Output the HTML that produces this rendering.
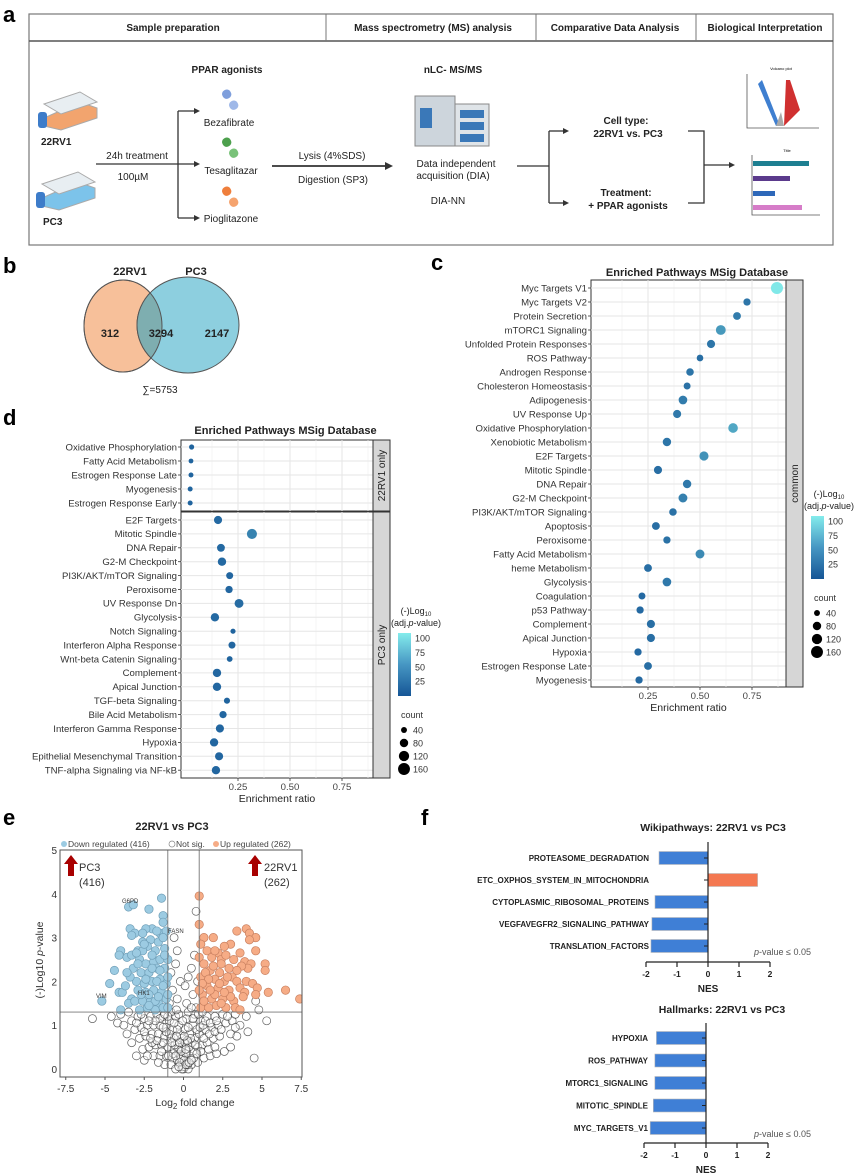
<!DOCTYPE html>
<html><head><meta charset="utf-8"><style>
html,body{margin:0;padding:0;background:#fff}
svg{display:block;font-family:"Liberation Sans",Arial,sans-serif}
</style></head><body>
<svg id="fig" width="858" height="1174" viewBox="0 0 858 1174" xmlns="http://www.w3.org/2000/svg">
<rect width="858" height="1174" fill="#fff"/>
<!-- Panel a -->
<g>
<text x="3" y="22" font-size="22" font-weight="bold">a</text>
<rect x="29" y="14" width="804" height="231" fill="none" stroke="#777" stroke-width="1.2"/>
<line x1="29" y1="41" x2="833" y2="41" stroke="#555" stroke-width="1.5"/>
<line x1="326" y1="14" x2="326" y2="41" stroke="#777"/>
<line x1="536" y1="14" x2="536" y2="41" stroke="#777"/>
<line x1="696" y1="14" x2="696" y2="41" stroke="#777"/>
<g font-size="10" font-weight="bold" text-anchor="middle" fill="#222">
<text x="173" y="31">Sample preparation</text>
<text x="433" y="31">Mass spectrometry (MS) analysis</text>
<text x="615" y="31">Comparative Data Analysis</text>
<text x="765" y="31">Biological Interpretation</text>
</g>
<g>
<polygon points="44,118 80,102 97,108 97,118 61,130 44,126" fill="#f2a46e" stroke="#aaa"/>
<polygon points="44,104 80,92 97,102 61,114" fill="#e8eef2" stroke="#aaa"/>
<rect x="38" y="112" width="9" height="16" rx="3" fill="#3d7cc9"/>
</g>
<g>
<polygon points="42,198 78,182 95,188 95,198 59,210 42,206" fill="#7cc3ea" stroke="#aaa"/>
<polygon points="42,184 78,172 95,182 59,194" fill="#e8eef2" stroke="#aaa"/>
<rect x="36" y="192" width="9" height="16" rx="3" fill="#3d7cc9"/>
</g>
<g font-size="10" font-weight="bold" fill="#222">
<text x="41" y="145">22RV1</text>
<text x="43" y="225">PC3</text>
<text x="227" y="73" text-anchor="middle">PPAR agonists</text>
<text x="453" y="73" text-anchor="middle">nLC- MS/MS</text>
<text x="626" y="124" text-anchor="middle">Cell type:</text>
<text x="628" y="137" text-anchor="middle">22RV1 vs. PC3</text>
<text x="626" y="196" text-anchor="middle">Treatment:</text>
<text x="628" y="209" text-anchor="middle">+ PPAR agonists</text>
</g>
<g font-size="10" fill="#222" text-anchor="middle">
<text x="137" y="159">24h treatment</text>
<text x="133" y="180">100µM</text>
<text x="229" y="126">Bezafibrate</text>
<text x="231" y="174">Tesaglitazar</text>
<text x="231" y="222">Pioglitazone</text>
<text x="332" y="159">Lysis (4%SDS)</text>
<text x="333" y="183">Digestion (SP3)</text>
<text x="456" y="167">Data independent</text>
<text x="453" y="179">acquisition (DIA)</text>
<text x="448" y="204">DIA-NN</text>
</g>
<g stroke="#333" stroke-width="1.3" fill="none">
<line x1="96" y1="164" x2="196" y2="164"/><line x1="178" y1="111" x2="178" y2="218"/>
<line x1="178" y1="111" x2="196" y2="111"/><line x1="178" y1="218" x2="196" y2="218"/>
<line x1="272" y1="166" x2="388" y2="166" stroke-width="1.8"/>
<line x1="517" y1="166" x2="549" y2="166"/><line x1="549" y1="131" x2="549" y2="203"/>
<line x1="549" y1="131" x2="565" y2="131"/><line x1="549" y1="203" x2="565" y2="203"/>
<polyline points="688,131 704,131 704,203 688,203"/><line x1="704" y1="165" x2="730" y2="165"/>
</g>
<g fill="#333">
<polygon points="200,164 194,161 194,167"/><polygon points="200,111 194,108 194,114"/><polygon points="200,218 194,215 194,221"/>
<polygon points="393,166 385,162 385,170"/><polygon points="569,131 563,128 563,134"/><polygon points="569,203 563,200 563,206"/><polygon points="735,165 729,162 729,168"/>
</g>
<g>
<rect x="222" y="90" width="9" height="9" rx="4" fill="#7f9fdc" transform="rotate(-30 226 94)"/><rect x="229" y="101" width="9" height="9" rx="4" fill="#9fb8e8" transform="rotate(-30 233 105)"/>
<rect x="222" y="138" width="9" height="9" rx="4" fill="#4da04d" transform="rotate(-30 226 142)"/><rect x="229" y="149" width="9" height="9" rx="4" fill="#79c279" transform="rotate(-30 233 153)"/>
<rect x="222" y="187" width="9" height="9" rx="4" fill="#ef7f3c" transform="rotate(-30 226 191)"/><rect x="229" y="198" width="9" height="9" rx="4" fill="#f5a36e" transform="rotate(-30 233 202)"/>
</g>
<g>
<rect x="415" y="96" width="40" height="50" fill="#cdd5dc" stroke="#888"/>
<rect x="420" y="108" width="12" height="20" fill="#3a78b8"/>
<rect x="455" y="104" width="34" height="42" fill="#dfe4e8" stroke="#888"/>
<rect x="460" y="110" width="24" height="8" fill="#3a78b8"/><rect x="460" y="122" width="24" height="8" fill="#3a78b8"/><rect x="460" y="134" width="24" height="8" fill="#3a78b8"/>
</g>
<g>
<text x="781" y="70" font-size="4" text-anchor="middle">Volcano plot</text>
<polyline points="747,74 747,128 819,128" fill="none" stroke="#555" stroke-width="0.8"/>
<polygon points="762,80 780,126 776,126 758,84" fill="#3f7fd0"/>
<polygon points="786,80 790,80 800,110 784,126" fill="#d03030"/>
<polygon points="776,126 784,126 781,112" fill="#aaa"/>
</g>
<g>
<text x="787" y="152" font-size="4" text-anchor="middle">Title</text>
<polyline points="752,155 752,215 820,215" fill="none" stroke="#555" stroke-width="0.8"/>
<rect x="753" y="161" width="56" height="5" fill="#1e7f91"/>
<rect x="753" y="176" width="37" height="5" fill="#5b3a8c"/>
<rect x="753" y="191" width="22" height="5" fill="#2e68b9"/>
<rect x="753" y="205" width="49" height="5" fill="#d67cc8"/>
</g>
</g>
<!-- Panel b -->
<g>
<text x="3" y="273" font-size="22" font-weight="bold">b</text>
<ellipse cx="123" cy="326" rx="39" ry="46" fill="#f7c09a" stroke="#555"/>
<ellipse cx="188" cy="325" rx="51" ry="48" fill="#8dcfdf" stroke="#555"/>
<clipPath id="clipL"><ellipse cx="123" cy="326" rx="39" ry="46"/></clipPath>
<ellipse cx="188" cy="325" rx="51" ry="48" fill="#7eaeb0" stroke="#555" clip-path="url(#clipL)"/>
<ellipse cx="123" cy="326" rx="39" ry="46" fill="none" stroke="#555"/>
<g font-size="11" font-weight="bold" text-anchor="middle" fill="#222">
<text x="110" y="337">312</text><text x="161" y="337">3294</text><text x="217" y="337">2147</text>
<text x="130" y="275">22RV1</text><text x="196" y="275">PC3</text>
</g>
<text x="160" y="393" font-size="10" text-anchor="middle" fill="#222">∑=5753</text>
</g>
<text x="431" y="270" font-size="22" font-weight="bold">c</text>
<text x="3" y="425" font-size="22" font-weight="bold">d</text>
<text x="3" y="825" font-size="22" font-weight="bold">e</text>
<text x="421" y="825" font-size="22" font-weight="bold">f</text>
<g id="gc"></g>
<g id="gd"></g>
<g id="ge"></g>
<g id="gf"></g>
</svg>
<script>
// ---------- Panel c data ----------
const cCategories = ["Myc Targets V1","Myc Targets V2","Protein Secretion","mTORC1 Signaling","Unfolded Protein Responses","ROS Pathway","Androgen Response","Cholesteron Homeostasis","Adipogenesis","UV Response Up","Oxidative Phosphorylation","Xenobiotic Metabolism","E2F Targets","Mitotic Spindle","DNA Repair","G2-M Checkpoint","PI3K/AKT/mTOR Signaling","Apoptosis","Peroxisome","Fatty Acid Metabolism","heme Metabolism","Glycolysis","Coagulation","p53 Pathway","Complement","Apical Junction","Hypoxia","Estrogen Response Late","Myogenesis"];
const cRatio = [0.87,0.726,0.678,0.60,0.553,0.50,0.452,0.438,0.418,0.39,0.659,0.341,0.519,0.298,0.438,0.418,0.37,0.288,0.341,0.50,0.25,0.341,0.221,0.212,0.264,0.264,0.202,0.25,0.207];
const cLogP = [100,20,25,45,20,15,20,18,25,22,55,20,40,15,22,28,18,15,18,35,15,22,12,12,15,15,12,15,12];
const cCount = [165,60,70,110,75,50,65,55,85,75,105,80,95,75,80,90,65,70,60,90,70,85,55,60,75,75,60,70,60];
// ---------- Panel d data ----------
const d1Categories = ["Oxidative Phosphorylation","Fatty Acid Metabolism","Estrogen Response Late","Myogenesis","Estrogen Response Early"];
const d1Ratio = [0.027,0.024,0.024,0.020,0.020];
const d1LogP = [8,8,8,8,8];
const d1Count = [30,26,28,28,28];
const d2Categories = ["E2F Targets","Mitotic Spindle","DNA Repair","G2-M Checkpoint","PI3K/AKT/mTOR Signaling","Peroxisome","UV Response Dn","Glycolysis","Notch Signaling","Interferon Alpha Response","Wnt-beta Catenin Signaling","Complement","Apical Junction","TGF-beta Signaling","Bile Acid Metabolism","Interferon Gamma Response","Hypoxia","Epithelial Mesenchymal Transition","TNF-alpha Signaling via NF-kB"];
const d2Ratio = [0.154,0.317,0.168,0.173,0.21,0.207,0.255,0.139,0.226,0.221,0.21,0.149,0.149,0.197,0.178,0.163,0.135,0.159,0.144];
const d2LogP = [12,30,12,12,10,10,14,12,8,10,8,10,10,8,10,10,10,10,10];
const d2Count = [75,115,70,80,55,60,90,80,30,55,38,80,80,42,60,75,78,75,78];
const ratioTicks = [0.25,0.5,0.75];
const ratioTickLabels = ["0.25","0.50","0.75"];
const legendLogP = [100,75,50,25];
const legendCounts = [40,80,120,160];
// ---------- Panel e data ----------
const downPts = [[-1.4,3.9],[-3.5,3.7],[-3.2,3.75],[-2.2,3.65],[-1.3,3.5],[-1.3,3.35],[-1.5,3.1],[-2.0,3.2],[-2.4,3.2],[-3.4,3.2],[-3.1,3.1],[-3.3,3.05],[-1.7,3.15],[-2.6,3.1],[-1.1,3.15],[-2.1,2.95],[-2.6,2.9],[-4.0,2.7],[-4.1,2.6],[-3.6,2.55],[-2.9,2.7],[-2.3,2.8],[-1.8,2.7],[-1.2,2.75],[-4.4,2.25],[-4.7,1.95],[-5.2,1.55],[-4.1,1.75],[-3.9,1.75],[-3.3,1.6],[-3.5,1.5],[-4.0,1.35],[-2.8,2.5],[-2.4,2.4],[-1.9,2.45],[-1.5,2.5],[-3.2,2.3],[-2.7,2.2],[-2.2,2.2],[-1.7,2.3],[-1.2,2.3],[-3.0,2.0],[-2.5,1.95],[-2.0,2.0],[-1.5,2.05],[-1.1,1.95],[-3.4,2.1],[-2.9,1.8],[-2.4,1.75],[-1.9,1.8],[-1.4,1.75],[-3.1,1.55],[-2.6,1.55],[-2.1,1.55],[-1.6,1.5],[-1.1,1.6],[-2.8,1.35],[-2.3,1.4],[-1.8,1.35],[-1.3,1.4],[-3.7,1.9],[-3.3,2.6],[-2.0,2.6],[-1.6,2.9],[-1.0,2.5],[-1.0,2.1],[-1.0,1.7],[-1.0,1.4],[-2.6,2.7],[-1.3,3.0],[-3.6,2.2],[-2.2,1.7],[-1.7,2.0],[-1.2,2.6],[-2.9,2.4],[-2.0,2.3],[-2.4,2.05],[-1.5,2.25],[-2.7,1.7],[-1.8,1.55],[-1.3,1.9],[-2.2,1.45],[-1.6,1.65],[-3.0,2.65],[-2.5,2.85]];
const upPts = [[1.0,3.95],[1.0,3.3],[4.0,3.2],[4.2,3.1],[3.4,3.15],[4.6,3.0],[4.2,2.95],[1.3,3.0],[1.9,3.0],[1.1,2.85],[3.0,2.85],[2.6,2.8],[1.5,2.7],[2.2,2.65],[3.6,2.65],[4.6,2.7],[1.0,2.55],[1.8,2.55],[2.4,2.5],[3.2,2.5],[3.9,2.45],[4.3,2.4],[5.2,2.4],[5.2,2.25],[4.1,2.3],[3.7,2.35],[2.9,2.3],[1.3,2.4],[1.7,2.25],[2.3,2.2],[1.1,2.1],[2.0,2.05],[2.6,2.0],[3.1,2.1],[3.4,2.0],[4.0,2.0],[4.4,1.95],[1.5,1.9],[2.2,1.85],[2.9,1.8],[3.6,1.85],[3.9,1.75],[4.7,1.85],[5.4,1.75],[6.5,1.8],[7.4,1.6],[4.6,1.7],[1.2,1.7],[1.8,1.6],[2.5,1.6],[3.2,1.55],[3.8,1.65],[1.1,1.4],[1.6,1.4],[2.1,1.45],[2.7,1.4],[3.3,1.4],[3.6,1.35],[2.4,2.4],[2.0,2.7],[1.4,2.2],[2.7,2.6],[3.0,1.65],[1.9,2.35],[2.3,1.95],[3.4,2.25],[1.6,2.05],[2.8,2.1],[1.3,1.55],[2.0,1.7],[2.6,1.75],[1.2,1.95],[1.7,1.8],[2.4,1.5],[1.0,1.8]];
const nsPts = [[-0.6,3.0],[-0.4,2.7],[0.8,3.6],[0.7,2.6],[0.5,2.3],[-0.5,2.4],[0.3,2.1],[-0.2,2.0],[0.1,1.9],[-0.8,2.2],[0.9,2.0],[-0.7,1.8],[0.6,1.7],[-0.4,1.6],[0.2,1.5],[-0.9,1.5],[0.8,1.4],[-5.8,1.15],[-4.6,1.2],[-4.2,1.05],[-3.8,1.0],[-3.3,1.1],[-2.9,1.2],[-2.5,1.15],[-2.1,1.2],[-1.7,1.25],[-1.3,1.2],[-0.9,1.1],[-3.6,0.8],[-3.1,0.9],[-2.7,0.95],[-2.3,1.0],[-1.9,1.0],[-1.5,1.0],[-1.1,0.95],[-0.7,0.9],[-3.3,0.6],[-2.8,0.7],[-2.4,0.75],[-2.0,0.8],[-1.6,0.8],[-1.2,0.75],[-0.8,0.7],[-0.4,0.6],[-2.6,0.45],[-2.2,0.5],[-1.8,0.55],[-1.4,0.55],[-1.0,0.5],[-0.6,0.45],[-0.3,0.35],[-3.0,0.3],[-1.9,0.3],[-1.5,0.3],[-1.1,0.3],[-0.7,0.25],[-0.4,0.2],[-0.2,0.1],[-1.2,0.1],[-0.8,0.1],[0,0],[0.1,0.05],[-0.1,0.15],[0.2,0.2],[0.4,0.3],[0.6,0.4],[0.9,0.5],[1.2,0.55],[1.5,0.6],[1.9,0.7],[2.3,0.75],[0.5,0.1],[0.9,0.15],[1.3,0.25],[1.7,0.3],[2.1,0.35],[2.6,0.4],[4.5,0.25],[0.3,0.6],[0.7,0.7],[1.0,0.8],[1.4,0.9],[1.8,0.95],[2.2,1.0],[2.7,1.05],[3.1,1.1],[3.6,1.0],[4.1,0.85],[0.6,1.0],[1.1,1.1],[1.5,1.2],[2.0,1.2],[2.5,1.25],[3.0,0.8],[3.4,0.75],[4.0,1.2],[5.3,1.1],[-0.2,0.8],[-0.5,1.2],[0.2,1.15],[-0.1,0.5],[0.1,0.9],[-0.3,1.0],[4.8,1.35],[4.6,1.55],[-2.0,0.6],[-2.5,0.2],[3.0,0.5],[1.6,0.45],[-1.6,0.15],[-4.0,1.25],[-0.5,0.0],[0.3,0.0],[-0.2,0.3],[0.2,0.4],[-0.6,0.7],[0.4,0.8],[-0.3,0.5],[0.0,0.3],[-0.1,0.7],[0.1,0.6],[-0.4,0.9],[0.3,0.95],[-0.15,0.25],[0.15,0.35],[-0.05,0.05],[0.05,0.2],[-0.25,0.15],[0.25,0.1],[-0.8,1.3],[0.7,1.25],[-1.4,0.4],[1.1,0.4],[-2.3,0.3],[2.0,0.5],[-3.5,1.3],[3.3,1.25],[-0.35,0.45],[0.35,0.5],[-0.55,0.55],[0.55,0.6],[-0.75,0.6],[0.75,0.55],[-0.9,0.8],[0.85,0.9],[-1.1,0.85],[1.05,0.95],[-1.3,0.95],[1.25,1.0],[-0.45,0.75],[0.45,0.7],[-0.25,0.6],[0.25,0.65],[-0.15,0.4],[0.15,0.45],[-0.6,1.05],[0.6,1.15],[-1.0,1.2],[0.95,1.25],[-1.5,1.15],[1.4,1.1],[-1.8,1.1],[1.7,1.05],[-2.2,1.1],[2.1,1.1],[-0.3,1.25],[0.3,1.3],[-0.05,1.1],[0.05,0.75],[-0.65,0.35],[0.65,0.25],[-0.95,0.3],[0.85,0.35],[-1.3,0.6],[1.3,0.7],[-1.7,0.65],[1.65,0.8],[-2.1,0.7],[2.0,0.85],[-2.5,0.85],[2.4,0.9],[-0.1,0.0],[0.15,0.1],[-0.3,0.05],[0.35,0.15],[-0.5,0.3],[0.5,0.2],[-2.7,1.25],[2.8,1.2],[-3.0,1.05],[3.3,0.95],[-1.2,1.25],[1.2,1.3],[-0.45,1.35],[0.5,1.4]];
const volcanoXTicks = [-7.5,-5,-2.5,0,2.5,5,7.5];
const volcanoXTickLabels = ["-7.5","-5","-2.5","0","2.5","5","7.5"];
const volcanoYTicks = [0,1,2,3,4,5];
// ---------- Panel f data ----------
const wikiLabels = ["PROTEASOME_DEGRADATION","ETC_OXPHOS_SYSTEM_IN_MITOCHONDRIA","CYTOPLASMIC_RIBOSOMAL_PROTEINS","VEGFAVEGFR2_SIGNALING_PATHWAY","TRANSLATION_FACTORS"];
const wikiNES = [-1.58,1.6,-1.71,-1.81,-1.84];
const hallLabels = ["HYPOXIA","ROS_PATHWAY","MTORC1_SIGNALING","MITOTIC_SPINDLE","MYC_TARGETS_V1"];
const hallNES = [-1.6,-1.65,-1.65,-1.7,-1.8];
const nesTicks = [-2,-1,0,1,2];

const NS = "http://www.w3.org/2000/svg";
function mk(tag, attrs, parent, txt){
  const e = document.createElementNS(NS, tag);
  for (const k in attrs) e.setAttribute(k, attrs[k]);
  if (txt !== undefined) e.textContent = txt;
  parent.appendChild(e);
  return e;
}
function colorFor(v){
  const t = Math.max(0, Math.min(1, v/100));
  const r = Math.round(24 + t*(128-24)), g = Math.round(88 + t*(232-88)), b = Math.round(152 + t*(232-152));
  return `rgb(${r},${g},${b})`;
}
function rad(c){ return 0.47*Math.sqrt(c); }

function facet(g, o){
  const xs = v => o.x0 + v*o.k;
  const bg = mk('rect',{x:o.left,y:o.top,width:o.right-o.left,height:o.bottom-o.top,fill:'#fff',stroke:'#333','stroke-width':1},g);
  
  
  for (let m=0.125;m<=0.875;m+=0.25){
    const l = mk('line',{x1:xs(m),x2:xs(m),y1:o.top,y2:o.bottom,stroke:'#f2f2f2','stroke-width':0.7},g);
    
    
  }
  ratioTicks.forEach(t=>{
    const l = mk('line',{x1:xs(t),x2:xs(t),y1:o.top,y2:o.bottom,stroke:'#e6e6e6','stroke-width':1},g);
    
    
  });
  o.cats.forEach((c,i)=>{
    const y = o.y0 + i*o.dy;
    const gl = mk('line',{x1:o.left,x2:o.right,y1:y,y2:y,stroke:'#e6e6e6','stroke-width':1},g);
    
    
    const tk = mk('line',{x1:o.left-3,x2:o.left,y1:y,y2:y,stroke:'#333','stroke-width':0.8},g);
    
    
    const tx = mk('text',{x:o.left-4,y:y+3.3,'font-size':9.6,'text-anchor':'end',fill:'#333'},g,c);
    
    
  });
  o.cats.forEach((c,i)=>{
    const y = o.y0 + i*o.dy;
    const d = mk('circle',{cx:xs(o.vals[i]),cy:y,r:rad(o.counts[i]),fill:colorFor(o.logp[i])},g);
    
    
  });
  const st = mk('rect',{x:o.right,y:o.top,width:17,height:o.bottom-o.top,fill:'#d6d6d6',stroke:'#333','stroke-width':1},g);
  
  
  const cy = (o.top+o.bottom)/2, cx = o.right+8.5;
  const sl = mk('text',{x:cx,y:cy,'font-size':10,'text-anchor':'middle',fill:'#222',transform:`rotate(-90 ${cx} ${cy}) translate(0 3.5)`},g,o.strip);
  
  
}
function xAxisRatio(g, o){
  const xs = v => o.x0 + v*o.k;
  ratioTicks.forEach((t,i)=>{
    const tk = mk('line',{x1:xs(t),x2:xs(t),y1:o.bottom,y2:o.bottom+3,stroke:'#333','stroke-width':0.8},g);
    
    
    const tl = mk('text',{x:xs(t),y:o.bottom+12,'font-size':9.6,'text-anchor':'middle',fill:'#444'},g,ratioTickLabels[i]);
    
    
  });
  const at = mk('text',{x:(o.left+o.right)/2,y:o.bottom+24,'font-size':10.5,'text-anchor':'middle',fill:'#222'},g,'Enrichment ratio');
  
  
  const ti = mk('text',{x:(o.left+o.right+17)/2,y:o.titleY,'font-size':11,'font-weight':'bold','text-anchor':'middle',fill:'#222'},g,'Enriched Pathways MSig Database');
  
  
}
function legend(g, x, y){
  const t1 = mk('text',{x:x+18,y:y,'font-size':9,'text-anchor':'middle',fill:'#222'},g);
  
  
  t1.innerHTML = '(-)Log<tspan font-size="6" dy="2">10</tspan>';
  const t2 = mk('text',{x:x+18,y:y+12,'font-size':9,'text-anchor':'middle',fill:'#222'},g);
  
  
  t2.innerHTML = '(adj.<tspan font-style="italic">p</tspan>-value)';
  const bar = mk('rect',{x:x,y:y+19,width:13,height:63,fill:'url(#cgrad)'},g);
  
  
  legendLogP.forEach(v=>{
    const yy = y+19 + 63*(1 - v/110);
    const tl = mk('text',{x:x+17,y:yy+3,'font-size':9,fill:'#333'},g,String(v));
    
    
  });
  const ct = mk('text',{x:x+14,y:y+104,'font-size':9,'text-anchor':'middle',fill:'#333'},g,'count');
  
  
  legendCounts.forEach((c,i)=>{
    const yy = y+116 + i*13;
    const dot = mk('circle',{cx:x+6,cy:yy,r:rad(c),fill:'#000'},g);
    
    
    const tl = mk('text',{x:x+15,y:yy+3.3,'font-size':9,fill:'#333'},g,String(c));
    
    
  });
}
const svg = document.getElementById('fig');
const defs = mk('defs',{},svg);
defs.innerHTML = '<linearGradient id="cgrad" x1="0" y1="0" x2="0" y2="1"><stop offset="0" stop-color="rgb(132,236,236)"/><stop offset="0.5" stop-color="rgb(70,150,195)"/><stop offset="1" stop-color="rgb(22,86,150)"/></linearGradient>';

// Panel c
const gc = document.getElementById('gc');
const cOpt = {left:591,right:786,top:280,bottom:687,x0:596,k:208,y0:288,dy:14.0,cats:cCategories,vals:cRatio,logp:cLogP,counts:cCount,strip:'common',titleY:276};
facet(gc, cOpt);
xAxisRatio(gc, cOpt);
legend(gc, 811, 497);

// Panel d
const gd = document.getElementById('gd');
const dOpt1 = {left:181,right:373,top:440,bottom:511,x0:186,k:208,y0:447,dy:14,cats:d1Categories,vals:d1Ratio,logp:d1LogP,counts:d1Count,strip:'22RV1 only'};
const dOpt2 = {left:181,right:373,top:512,bottom:778,x0:186,k:208,y0:520,dy:13.9,cats:d2Categories,vals:d2Ratio,logp:d2LogP,counts:d2Count,strip:'PC3 only',titleY:434};
facet(gd, dOpt1);
facet(gd, dOpt2);
xAxisRatio(gd, dOpt2);
legend(gd, 398, 614);

// Panel e volcano
const ge = document.getElementById('ge');
const ex = v => 183.5 + v*15.7;
const ey = v => 1069 - v*43.8;
const et = mk('text',{x:172,y:830,'font-size':11,'font-weight':'bold','text-anchor':'middle',fill:'#222'},ge,'22RV1 vs PC3');


const eclip = mk('clipPath',{id:'eclip'},defs);
mk('rect',{x:60,y:850,width:242,height:227},eclip);
const pts = mk('g',{'clip-path':'url(#eclip)'},ge);


nsPts.forEach(p=>{
  const c = mk('circle',{cx:ex(p[0]),cy:ey(p[1]),r:4,fill:'rgba(255,255,255,0.45)',stroke:'rgba(30,30,30,0.7)','stroke-width':0.7},pts);
  
  
});
downPts.forEach(p=>{
  const c = mk('circle',{cx:ex(p[0]),cy:ey(p[1]),r:4.2,fill:'#9ccbe2',stroke:'#6f9fb8','stroke-width':0.7},pts);
  
  
});
upPts.forEach(p=>{
  const c = mk('circle',{cx:ex(p[0]),cy:ey(p[1]),r:4.2,fill:'#f6ac86',stroke:'#c98060','stroke-width':0.7},pts);
  
  
});
[[-1,'v'],[1,'v'],[1.3,'h']].forEach(a=>{
  const l = a[1]==='v' ? mk('line',{x1:ex(a[0]),x2:ex(a[0]),y1:850,y2:1077,stroke:'#777','stroke-width':0.9},ge)
                       : mk('line',{x1:60,x2:302,y1:ey(a[0]),y2:ey(a[0]),stroke:'#777','stroke-width':0.9},ge);
  
  
});
const ebox = mk('rect',{x:60,y:850,width:242,height:227,fill:'none',stroke:'#555','stroke-width':1},ge);


volcanoXTicks.forEach((t,i)=>{
  const tk = mk('line',{x1:ex(t),x2:ex(t),y1:1077,y2:1080,stroke:'#555'},ge);
  
  
  const tl = mk('text',{x:ex(t),y:1092,'font-size':10,'text-anchor':'middle',fill:'#333'},ge,volcanoXTickLabels[i]);
  
  
});
volcanoYTicks.forEach(t=>{
  const tl = mk('text',{x:57,y:ey(t)+4,'font-size':10,'text-anchor':'end',fill:'#333'},ge,String(t));
  
  
});
const exl = mk('text',{x:195,y:1106,'font-size':10.5,'text-anchor':'middle',fill:'#333'},ge);


exl.innerHTML = 'Log<tspan font-size="8" dy="3">2</tspan><tspan dy="-3"> fold change</tspan>';
const eyl = mk('text',{x:43,y:960,'font-size':10.5,'text-anchor':'middle',fill:'#333',transform:'rotate(-90 43 960)'},ge);


eyl.innerHTML = '(-)Log10 <tspan font-style="italic">p</tspan>-value';
const eleg = mk('g',{'font-size':8.5,fill:'#444'},ge);


eleg.innerHTML = '<circle cx="64" cy="844" r="3" fill="#9ccbe2"/><text x="68" y="847">Down regulated (416)</text><circle cx="172" cy="844" r="3" fill="#fff" stroke="#888" stroke-width="0.7"/><text x="176" y="847">Not sig.</text><circle cx="216" cy="844" r="3" fill="#f6ac86"/><text x="220" y="847">Up regulated (262)</text>';
const earr = mk('g',{},ge);


earr.innerHTML = '<polygon points="71,855 78,864 74,864 74,876 68,876 68,864 64,864" fill="#a80000"/><text x="79" y="871" font-size="11" fill="#333">PC3</text><text x="79" y="886" font-size="11" fill="#333">(416)</text><polygon points="255,855 262,864 258,864 258,876 252,876 252,864 248,864" fill="#a80000"/><text x="264" y="871" font-size="11" fill="#333">22RV1</text><text x="264" y="886" font-size="11" fill="#333">(262)</text><g font-size="6" fill="#333"><text x="122" y="903">G6PD</text><text x="168" y="933">FASN</text><text x="96" y="998">VIM</text><text x="138" y="995">HK1</text></g>';

// Panel f
const gf = document.getElementById('gf');
function gsea(o){
  const xs = v => o.zero + v*31;
  const ti = mk('text',{x:o.tx,y:o.ty,'font-size':10.5,'font-weight':'bold','text-anchor':'middle',fill:'#222'},gf,o.title);
  
  
  o.labels.forEach((lab,i)=>{
    const y = o.y0 + i*o.dy;
    const v = o.vals[i];
    const b = mk('rect',{x:Math.min(xs(0),xs(v)),y:y-6.5,width:Math.abs(xs(v)-xs(0)),height:13,fill:v<0?'#3f7fd6':'#f47851',stroke:'#bbb','stroke-width':0.6},gf);
    
    
    const tk = mk('line',{x1:xs(0)-4,x2:xs(0),y1:y,y2:y,stroke:'#222','stroke-width':1},gf);
    
    
    const tl = mk('text',{x:o.labelX,y:y+3,'font-size':8,'font-weight':'bold','text-anchor':'end',fill:'#222'},gf,lab);
    
    
  });
  const ax = mk('line',{x1:xs(0),x2:xs(0),y1:o.axTop,y2:o.axBot,stroke:'#222','stroke-width':1.2},gf);
  
  
  const xa = mk('line',{x1:xs(-2),x2:xs(2),y1:o.axBot,y2:o.axBot,stroke:'#222','stroke-width':1.2},gf);
  
  
  nesTicks.forEach(t=>{
    const tk = mk('line',{x1:xs(t),x2:xs(t),y1:o.axBot,y2:o.axBot+5,stroke:'#222','stroke-width':1.2},gf);
    
    
    const tl = mk('text',{x:xs(t),y:o.axBot+15,'font-size':8.5,'font-weight':'bold','text-anchor':'middle',fill:'#222'},gf,String(t));
    
    
  });
  const nt = mk('text',{x:xs(0),y:o.axBot+30,'font-size':10,'font-weight':'bold','text-anchor':'middle',fill:'#222'},gf,'NES');
  
  
  const pv = mk('text',{x:811,y:o.pY,'font-size':9,'text-anchor':'end',fill:'#555'},gf);
  
  
  pv.innerHTML = '<tspan font-style="italic">p</tspan>-value ≤ 0.05';
}
gsea({zero:708,tx:713,ty:831,title:'Wikipathways: 22RV1 vs PC3',labels:wikiLabels,vals:wikiNES,y0:858,dy:22,labelX:649,axTop:842,axBot:962,pY:955});
gsea({zero:706,tx:722,ty:1013,title:'Hallmarks: 22RV1 vs PC3',labels:hallLabels,vals:hallNES,y0:1038,dy:22.5,labelX:648,axTop:1023,axBot:1143,pY:1137});
</script>
</body></html>
